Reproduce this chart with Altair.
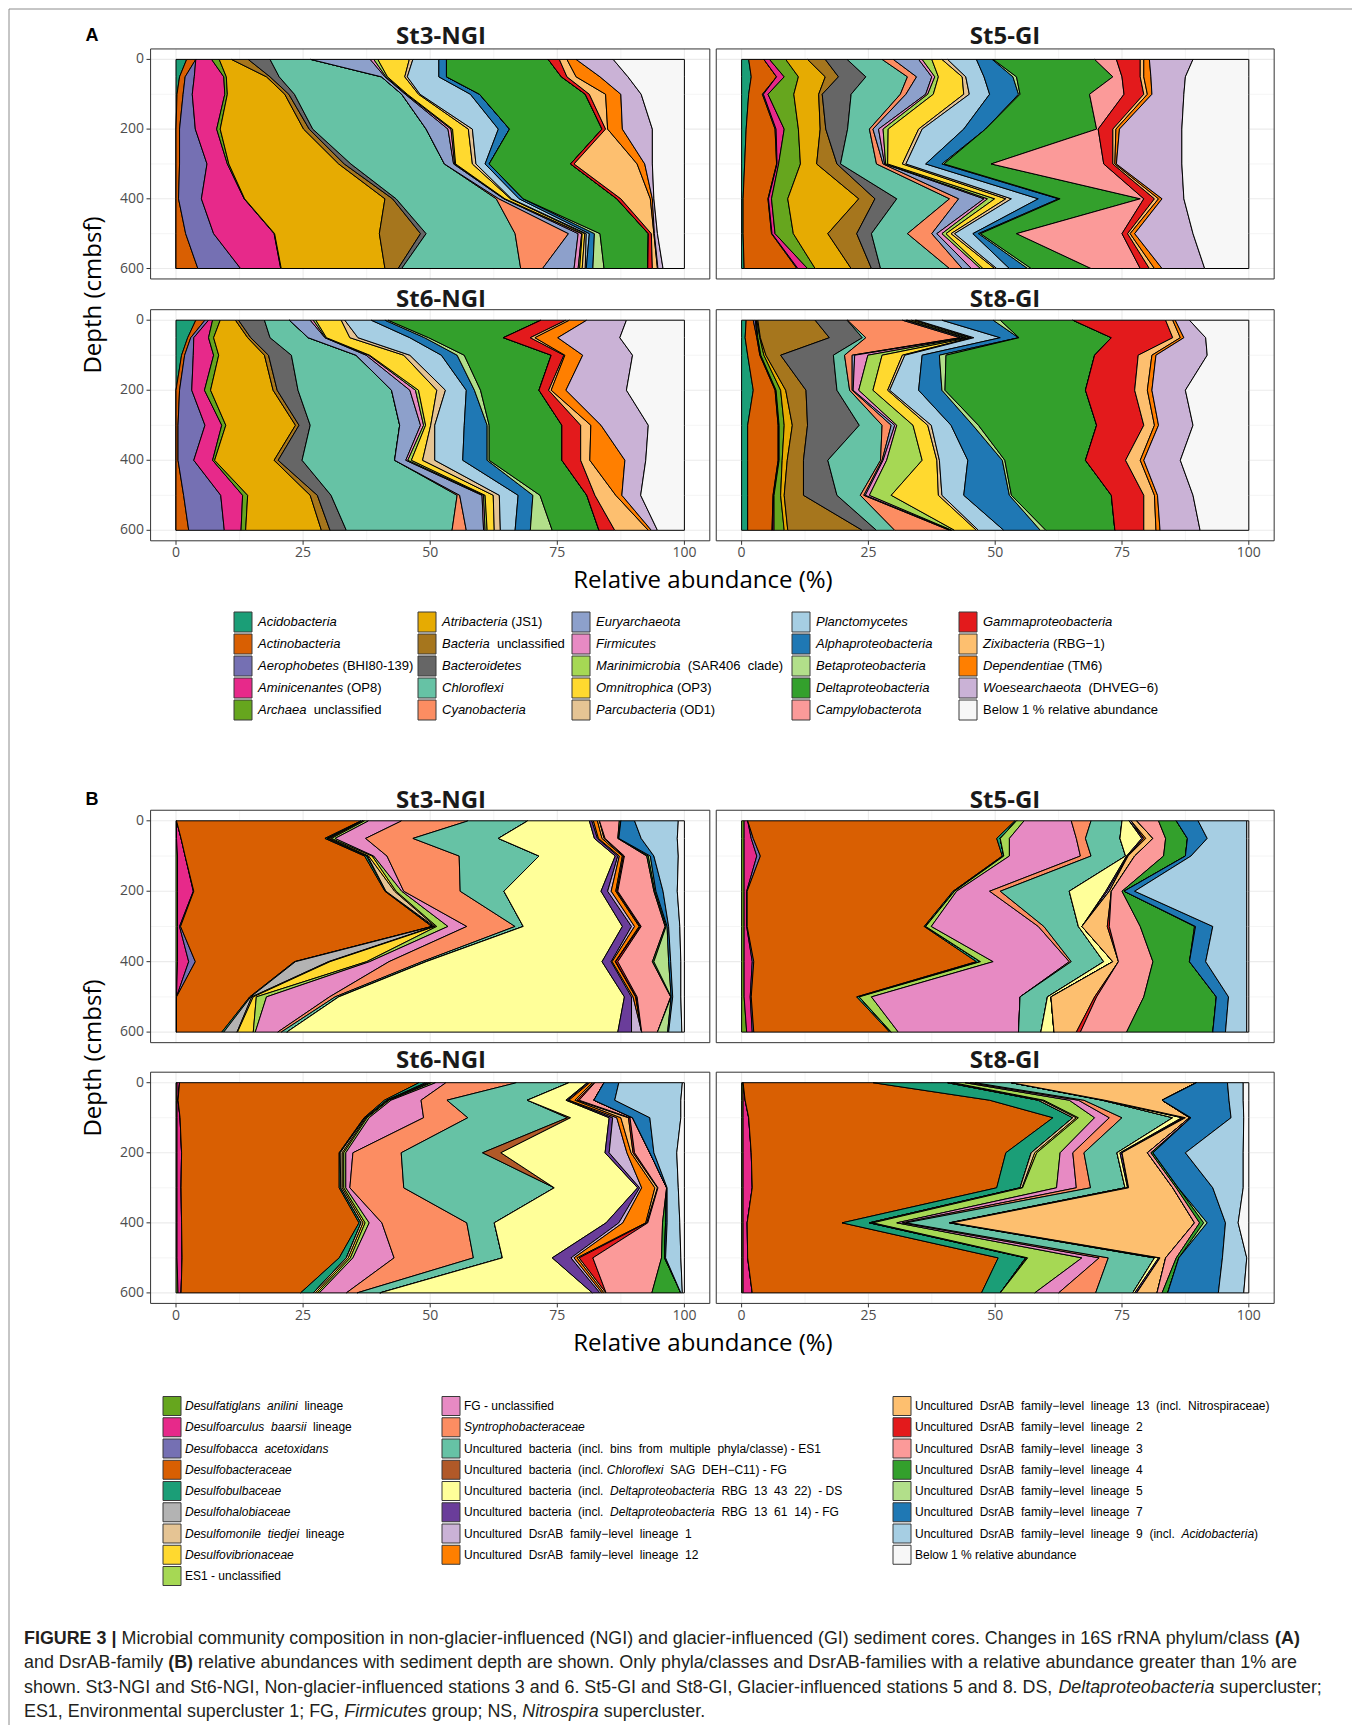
import altair as alt
import pandas as pd
import numpy as np

# ------------------------------------------------------------------ data
DEPTHS = [0, 50, 100, 200, 300, 400, 500, 600]

PHYLA = ["Acidobacteria", "Actinobacteria", "Aerophobetes (BHI80-139)", "Aminicenantes (OP8)",
         "Archaea unclassified", "Atribacteria (JS1)", "Bacteria unclassified", "Bacteroidetes",
         "Chloroflexi", "Cyanobacteria", "Euryarchaeota", "Firmicutes",
         "Marinimicrobia (SAR406 clade)", "Omnitrophica (OP3)", "Parcubacteria (OD1)",
         "Planctomycetes", "Alphaproteobacteria", "Betaproteobacteria", "Deltaproteobacteria",
         "Campylobacterota", "Gammaproteobacteria", "Zixibacteria (RBG-1)", "Dependentiae (TM6)",
         "Woesearchaeota (DHVEG-6)", "Below 1 % relative abundance"]
PHYLA_COLORS = ["#1B9E77", "#D95F02", "#7570B3", "#E7298A", "#66A61E", "#E6AB02", "#A6761D",
                "#666666", "#66C2A5", "#FC8D62", "#8DA0CB", "#E78AC3", "#A6D854", "#FFD92F",
                "#E5C494", "#A6CEE3", "#1F78B4", "#B2DF8A", "#33A02C", "#FB9A99", "#E31A1C",
                "#FDBF6F", "#FF7F00", "#CAB2D6", "#F7F7F7"]

DSR = ["Desulfatiglans anilini lineage", "Desulfoarculus baarsii lineage", "Desulfobacca acetoxidans",
       "Desulfobacteraceae", "Desulfobulbaceae", "Desulfohalobiaceae", "Desulfomonile tiedjei lineage",
       "Desulfovibrionaceae", "ES1 - unclassified", "FG - unclassified", "Syntrophobacteraceae",
       "Uncultured bacteria (incl. bins from multiple phyla/classe) - ES1",
       "Uncultured bacteria (incl. Chloroflexi SAG DEH-C11) - FG",
       "Uncultured bacteria (incl. Deltaproteobacteria RBG 13 43 22) - DS",
       "Uncultured bacteria (incl. Deltaproteobacteria RBG 13 61 14) - FG",
       "Uncultured DsrAB family-level lineage 1", "Uncultured DsrAB family-level lineage 12",
       "Uncultured DsrAB family-level lineage 13 (incl. Nitrospiraceae)",
       "Uncultured DsrAB family-level lineage 2", "Uncultured DsrAB family-level lineage 3",
       "Uncultured DsrAB family-level lineage 4", "Uncultured DsrAB family-level lineage 5",
       "Uncultured DsrAB family-level lineage 7",
       "Uncultured DsrAB family-level lineage 9 (incl. Acidobacteria)",
       "Below 1 % relative abundance"]
DSR_COLORS = ["#66A61E", "#E7298A", "#7570B3", "#D95F02", "#1B9E77", "#B3B3B3", "#E5C494",
              "#FFD92F", "#A6D854", "#E78AC3", "#FC8D62", "#66C2A5", "#B15928", "#FFFF99",
              "#6A3D9A", "#CAB2D6", "#FF7F00", "#FDBF6F", "#E31A1C", "#FB9A99", "#33A02C",
              "#B2DF8A", "#1F78B4", "#A6CEE3", "#F7F7F7"]

# cumulative right edges (%) of the first 24 groups at each depth; the last group fills to 100
A_ST3 = [
    [2.1, 3.9, 3.9, 7.0, 8.5, 10.9, 14.2, 18.5, 26.5, 26.5, 38.2, 38.9, 39.7, 45.9, 46.6, 51.7, 53.2, 53.2, 73.2, 73.2, 75.4, 76.9, 78.7, 86.0],
    [0.7, 1.8, 3.6, 9.4, 9.9, 17.8, 18.5, 20.3, 40.4, 40.4, 41.1, 41.3, 41.6, 45.0, 45.5, 51.7, 53.2, 53.2, 75.8, 75.8, 76.9, 78.7, 83.4, 88.9],
    [0.2, 1.4, 3.2, 9.6, 10.1, 21.4, 22.2, 23.3, 44.4, 44.4, 45.1, 45.3, 45.5, 47.7, 48.0, 57.9, 59.7, 59.7, 80.5, 80.5, 81.3, 84.5, 87.5, 91.5],
    [0.0, 0.7, 3.8, 8.0, 8.7, 25.1, 26.2, 26.9, 49.2, 49.2, 53.5, 54.1, 54.4, 57.5, 58.3, 63.4, 65.6, 65.6, 83.8, 83.8, 84.5, 84.9, 87.8, 93.7],
    [0.0, 0.7, 6.1, 10.1, 10.4, 32.0, 33.1, 34.4, 52.8, 52.8, 54.6, 54.8, 55.0, 58.3, 59.0, 60.8, 61.6, 61.6, 77.6, 77.6, 78.3, 90.7, 92.2, 93.7],
    [0.0, 0.5, 5.0, 13.4, 13.5, 41.1, 42.6, 43.3, 63.0, 63.5, 64.5, 64.6, 64.7, 65.8, 66.0, 67.5, 68.3, 68.3, 86.7, 86.7, 87.5, 93.3, 93.7, 94.0],
    [0.0, 1.9, 7.4, 19.3, 19.4, 40.0, 48.1, 49.2, 66.7, 77.2, 79.1, 79.8, 79.9, 80.4, 80.7, 81.3, 82.3, 83.4, 92.9, 92.9, 93.5, 94.0, 94.1, 94.7],
    [0.0, 4.3, 12.7, 20.6, 20.7, 41.1, 43.7, 44.4, 67.8, 72.1, 78.3, 79.1, 79.4, 79.9, 80.5, 80.7, 82.0, 84.2, 92.8, 92.8, 93.7, 94.7, 94.8, 95.8],
]
A_ST5 = [
    [1.4, 4.4, 4.4, 5.5, 8.7, 13.0, 16.5, 20.8, 27.7, 29.9, 34.9, 35.6, 37.5, 39.5, 40.6, 46.3, 49.4, 49.6, 69.6, 73.9, 78.6, 79.3, 80.4, 89.0],
    [1.9, 6.9, 6.9, 8.4, 11.2, 16.5, 19.1, 24.5, 32.7, 34.5, 37.5, 38.1, 38.8, 43.5, 44.2, 47.8, 53.5, 54.2, 73.2, 75.0, 78.6, 79.3, 80.7, 87.5],
    [1.4, 4.1, 4.3, 5.2, 10.3, 15.2, 15.9, 21.6, 31.3, 32.4, 36.3, 36.7, 37.8, 43.8, 44.9, 48.9, 54.6, 54.9, 68.6, 75.4, 79.3, 80.0, 80.9, 87.2],
    [0.9, 6.6, 6.8, 8.4, 11.2, 15.5, 16.6, 20.9, 25.2, 25.9, 27.0, 27.9, 28.9, 34.9, 35.6, 43.8, 48.1, 48.1, 70.0, 70.3, 73.2, 73.8, 74.5, 86.8],
    [0.6, 6.9, 7.0, 7.3, 11.6, 14.8, 18.8, 19.5, 26.6, 27.9, 28.2, 28.4, 28.8, 31.7, 32.4, 36.3, 39.5, 39.9, 49.2, 71.4, 73.2, 73.6, 73.9, 86.8],
    [0.3, 5.2, 5.3, 5.9, 9.1, 23.1, 26.3, 30.6, 41.0, 42.8, 47.8, 48.5, 49.9, 52.1, 53.2, 58.5, 62.5, 62.8, 78.6, 79.3, 81.4, 82.2, 82.9, 87.2],
    [0.3, 5.9, 6.0, 6.6, 10.2, 17.0, 22.7, 25.6, 32.7, 37.5, 38.5, 39.5, 40.3, 41.3, 42.0, 45.6, 46.7, 47.1, 54.2, 75.0, 76.1, 76.6, 77.5, 89.0],
    [0.5, 10.9, 11.1, 13.0, 14.5, 21.6, 25.6, 27.4, 41.0, 43.5, 45.3, 47.1, 47.6, 49.9, 50.3, 52.8, 56.4, 57.1, 68.9, 78.6, 80.4, 81.4, 82.9, 91.3],
]
A_ST6 = [
    [3.9, 5.7, 6.4, 7.2, 8.7, 11.7, 12.3, 17.4, 22.3, 22.3, 26.4, 27.0, 27.5, 32.5, 33.2, 38.4, 41.1, 41.7, 71.8, 71.8, 76.7, 77.4, 80.8, 88.6],
    [2.3, 2.9, 3.5, 6.4, 7.4, 14.1, 14.7, 18.5, 26.0, 26.0, 29.3, 29.4, 29.6, 34.2, 35.8, 46.0, 48.9, 49.7, 64.4, 64.4, 69.7, 70.6, 75.1, 87.3],
    [1.1, 1.7, 3.4, 7.4, 8.4, 17.4, 18.2, 22.7, 35.4, 35.4, 37.4, 37.9, 38.1, 44.8, 46.0, 52.2, 55.3, 56.7, 73.8, 73.8, 76.3, 76.5, 80.0, 89.8],
    [0.0, 0.7, 3.1, 5.6, 6.8, 19.1, 19.9, 24.0, 42.4, 42.4, 46.0, 47.1, 47.7, 51.3, 53.0, 57.1, 58.7, 59.9, 71.4, 71.4, 73.3, 73.8, 76.7, 88.6],
    [0.0, 0.4, 5.7, 9.0, 9.8, 23.5, 24.2, 26.4, 44.0, 44.0, 48.1, 48.7, 49.1, 50.1, 50.9, 56.7, 61.2, 61.6, 75.9, 75.9, 79.6, 81.6, 83.6, 92.9],
    [0.0, 0.4, 3.5, 7.2, 7.6, 19.3, 20.1, 24.8, 43.0, 43.0, 45.2, 45.6, 46.3, 48.5, 50.9, 56.4, 61.2, 61.6, 75.9, 75.9, 79.6, 81.4, 88.3, 92.4],
    [0.0, 1.5, 8.8, 13.1, 14.1, 26.4, 27.8, 30.5, 55.3, 55.8, 60.2, 60.5, 60.8, 62.4, 63.6, 67.3, 70.2, 71.6, 80.8, 80.8, 82.4, 86.5, 87.7, 91.4],
    [0.0, 2.5, 9.5, 12.8, 13.7, 28.6, 30.3, 33.5, 54.3, 57.1, 60.5, 60.8, 61.2, 62.6, 63.8, 66.7, 69.7, 74.0, 83.2, 83.2, 86.3, 92.9, 93.5, 94.7],
]
A_ST8 = [
    [0.9, 2.3, 2.7, 2.9, 3.0, 3.2, 14.5, 20.8, 20.9, 31.7, 32.4, 32.7, 33.5, 34.2, 34.5, 39.5, 49.6, 51.0, 65.3, 65.3, 83.6, 85.0, 85.5, 88.3],
    [0.7, 3.0, 3.1, 3.2, 3.6, 3.7, 17.3, 23.8, 24.5, 43.1, 43.8, 44.2, 44.9, 45.3, 45.8, 51.0, 54.6, 54.7, 72.9, 72.9, 85.0, 86.5, 87.2, 91.5],
    [1.2, 3.6, 3.7, 3.8, 4.4, 4.8, 7.7, 18.1, 20.3, 21.8, 22.3, 24.9, 27.7, 31.7, 32.2, 35.6, 39.0, 40.3, 69.6, 69.6, 78.2, 80.9, 81.7, 91.8],
    [2.3, 6.6, 6.7, 6.8, 7.7, 8.7, 12.7, 18.8, 21.3, 21.8, 22.0, 23.1, 25.9, 28.8, 29.2, 34.9, 39.5, 40.1, 67.8, 67.8, 77.5, 80.0, 80.9, 87.5],
    [1.2, 7.2, 7.3, 7.4, 8.4, 10.0, 13.0, 23.2, 27.7, 29.5, 30.2, 30.6, 33.8, 36.7, 37.4, 41.3, 45.6, 46.7, 70.0, 70.0, 79.3, 81.4, 82.2, 89.0],
    [1.2, 7.2, 7.3, 7.4, 8.0, 9.0, 12.2, 17.0, 27.4, 27.7, 27.9, 28.6, 35.6, 38.5, 39.0, 44.6, 51.4, 51.9, 67.8, 67.8, 75.7, 78.6, 79.3, 86.5],
    [1.2, 6.2, 6.3, 6.4, 7.7, 8.4, 12.2, 18.8, 23.4, 24.1, 24.4, 25.2, 29.5, 38.8, 39.5, 43.8, 52.8, 53.2, 72.9, 72.9, 79.3, 81.4, 82.0, 89.0],
    [1.2, 6.0, 6.1, 6.4, 8.4, 9.1, 23.8, 26.6, 30.2, 41.0, 41.3, 41.5, 42.0, 46.3, 46.7, 51.7, 58.9, 60.0, 73.6, 73.6, 79.3, 81.7, 82.5, 90.4],
]
B_ST3 = [
    [0.1, 0.1, 0.1, 36.4, 36.8, 36.8, 36.8, 37.1, 37.9, 44.4, 57.5, 69.2, 69.2, 81.3, 81.8, 82.1, 82.9, 83.3, 83.3, 87.2, 87.5, 87.5, 90.2, 98.8],
    [0.1, 1.0, 1.0, 29.3, 29.7, 29.9, 30.2, 30.6, 31.3, 37.3, 46.6, 63.4, 63.4, 82.3, 82.9, 83.1, 83.8, 84.2, 84.4, 86.9, 87.1, 87.1, 91.5, 98.6],
    [0.3, 1.8, 1.8, 37.1, 37.5, 37.7, 37.9, 38.6, 38.9, 41.5, 55.7, 71.4, 71.4, 86.4, 86.9, 87.2, 87.8, 88.0, 88.2, 92.6, 92.9, 93.3, 94.0, 98.8],
    [0.3, 3.4, 3.5, 41.1, 41.3, 41.3, 43.0, 43.3, 44.4, 44.8, 55.9, 64.5, 64.5, 83.6, 84.9, 85.6, 86.5, 86.7, 86.9, 94.0, 94.2, 94.4, 95.8, 98.6],
    [0.3, 0.7, 0.9, 50.3, 50.5, 50.8, 51.0, 51.3, 53.5, 57.2, 66.7, 68.3, 68.3, 87.8, 89.6, 90.2, 91.1, 91.3, 91.5, 96.2, 96.4, 96.6, 96.9, 99.1],
    [0.3, 2.5, 3.8, 23.3, 23.5, 30.0, 30.3, 37.5, 38.1, 41.9, 48.4, 49.2, 49.2, 83.8, 85.6, 85.8, 86.4, 86.5, 86.9, 93.7, 94.0, 96.9, 97.3, 99.3],
    [0.1, 0.1, 0.1, 14.5, 14.7, 14.9, 15.2, 15.8, 17.8, 30.2, 31.3, 32.0, 32.0, 88.2, 89.6, 89.9, 90.4, 90.5, 90.7, 97.3, 97.4, 97.4, 97.7, 99.3],
    [0.1, 0.1, 0.1, 9.0, 9.4, 12.0, 12.1, 15.2, 15.6, 20.0, 20.7, 21.8, 21.8, 86.9, 89.6, 91.6, 91.6, 91.6, 91.6, 94.7, 94.7, 96.7, 96.9, 99.5],
]
B_ST5 = [
    [0.5, 1.2, 1.2, 53.9, 54.2, 54.2, 54.2, 54.2, 55.7, 65.0, 68.9, 75.0, 75.0, 76.4, 76.4, 76.8, 76.8, 77.9, 77.9, 82.2, 85.7, 85.7, 90.0, 99.6],
    [0.5, 1.9, 2.3, 50.3, 51.0, 51.0, 51.0, 51.0, 52.8, 66.0, 67.8, 74.6, 74.6, 78.9, 79.3, 79.3, 79.7, 81.1, 81.1, 83.6, 87.9, 87.9, 91.8, 99.6],
    [0.5, 3.0, 3.7, 51.4, 51.7, 51.7, 51.7, 51.7, 52.8, 66.8, 68.9, 75.7, 75.7, 75.9, 76.1, 76.1, 76.2, 77.5, 77.5, 83.2, 87.5, 87.5, 88.6, 99.6],
    [0.5, 1.0, 1.1, 41.7, 42.0, 42.0, 42.0, 42.0, 42.4, 48.9, 51.0, 64.6, 64.6, 71.8, 72.1, 72.5, 72.5, 72.9, 72.9, 75.0, 75.4, 75.4, 77.5, 99.6],
    [0.5, 1.0, 1.1, 36.0, 36.3, 36.3, 36.3, 36.3, 37.4, 58.5, 59.6, 66.4, 66.4, 67.1, 67.1, 67.1, 67.1, 72.1, 72.5, 78.6, 89.3, 89.5, 92.9, 99.6],
    [0.5, 2.1, 2.4, 46.3, 47.1, 47.1, 47.1, 47.1, 49.6, 64.6, 65.0, 71.4, 71.4, 73.2, 73.2, 73.2, 73.2, 74.3, 74.3, 81.1, 88.3, 88.3, 91.5, 99.6],
    [0.5, 1.7, 1.9, 22.7, 23.2, 23.2, 23.2, 23.2, 25.6, 54.9, 54.9, 60.3, 60.3, 61.0, 61.0, 61.0, 61.0, 69.6, 70.0, 79.3, 93.6, 93.6, 96.0, 99.6],
    [1.0, 2.1, 2.4, 29.2, 29.5, 29.5, 29.5, 29.5, 30.9, 54.6, 54.6, 59.0, 59.0, 61.6, 61.6, 61.6, 61.6, 66.0, 66.8, 75.9, 92.9, 92.9, 95.4, 99.6],
]
B_ST6 = [
    [0.2, 0.7, 0.7, 47.8, 49.1, 49.5, 49.9, 50.3, 51.1, 53.1, 67.0, 77.3, 77.3, 80.9, 81.1, 81.4, 81.9, 82.2, 82.4, 84.2, 84.2, 84.2, 87.1, 99.6],
    [0.2, 0.4, 0.4, 41.0, 41.5, 41.5, 41.7, 41.9, 42.3, 48.2, 53.3, 69.1, 69.1, 76.7, 77.0, 77.3, 78.5, 78.9, 79.3, 82.2, 82.2, 82.2, 86.3, 99.3],
    [0.2, 0.8, 0.8, 37.0, 37.2, 37.2, 37.4, 37.6, 38.0, 48.7, 57.4, 77.0, 77.6, 85.2, 85.9, 86.7, 87.5, 89.0, 89.3, 89.8, 89.8, 89.8, 93.2, 99.3],
    [0.2, 1.1, 1.1, 32.1, 32.3, 32.3, 32.7, 33.0, 33.4, 34.8, 44.3, 60.3, 63.9, 84.4, 85.2, 88.7, 89.5, 89.9, 90.2, 93.2, 93.2, 93.2, 94.0, 98.5],
    [0.2, 1.0, 1.0, 32.1, 32.4, 32.4, 32.7, 33.0, 33.4, 34.2, 44.8, 74.4, 74.4, 90.8, 91.2, 91.6, 94.2, 94.7, 94.8, 96.5, 96.5, 96.5, 96.6, 98.8],
    [0.2, 1.1, 1.1, 36.0, 36.4, 36.4, 36.8, 37.2, 38.0, 40.5, 57.2, 62.6, 62.6, 84.6, 87.1, 87.9, 92.4, 92.6, 92.8, 95.7, 96.3, 96.3, 96.6, 99.1],
    [0.2, 1.2, 1.2, 32.1, 33.5, 33.5, 33.9, 34.3, 34.8, 42.9, 58.5, 64.2, 64.2, 74.0, 77.7, 78.3, 78.9, 79.3, 82.0, 95.5, 96.1, 96.1, 96.3, 99.3],
    [0.4, 1.0, 1.0, 24.5, 27.0, 27.0, 27.4, 27.8, 28.2, 33.5, 35.6, 40.1, 40.1, 81.9, 83.4, 83.8, 84.2, 84.6, 84.6, 93.6, 99.3, 99.3, 99.3, 99.6],
]
B_ST8 = [
    [0.3, 0.3, 0.3, 25.9, 40.6, 40.6, 41.3, 41.7, 44.0, 45.0, 46.0, 53.2, 53.2, 53.2, 53.2, 53.2, 53.2, 89.7, 89.7, 89.7, 89.7, 89.7, 95.8, 98.9],
    [0.3, 0.7, 0.7, 48.9, 58.5, 58.5, 59.2, 59.6, 64.6, 66.4, 67.5, 71.1, 71.1, 71.4, 71.6, 71.6, 71.6, 82.9, 82.9, 82.9, 82.9, 82.9, 96.1, 98.9],
    [0.3, 1.4, 1.4, 61.4, 65.3, 65.3, 66.0, 66.4, 69.6, 72.5, 75.0, 85.0, 85.0, 86.8, 87.2, 87.2, 87.5, 88.3, 88.3, 88.6, 88.6, 88.6, 96.5, 99.0],
    [0.3, 1.9, 1.9, 52.1, 57.1, 57.1, 57.8, 58.2, 62.8, 65.3, 67.5, 74.0, 74.0, 74.6, 75.0, 75.0, 75.0, 80.0, 80.0, 80.7, 81.1, 81.1, 87.5, 98.9],
    [0.3, 2.1, 2.1, 50.3, 54.9, 54.9, 55.3, 55.4, 62.1, 66.0, 68.8, 75.6, 75.6, 76.1, 76.3, 76.3, 76.3, 85.0, 85.0, 85.7, 86.1, 86.1, 92.9, 98.9],
    [0.3, 1.1, 1.1, 19.8, 25.2, 25.2, 25.6, 25.9, 30.6, 31.7, 32.4, 41.0, 41.0, 41.3, 41.5, 41.5, 41.5, 89.3, 89.3, 90.3, 91.1, 91.8, 95.4, 97.9],
    [0.3, 1.2, 1.2, 50.6, 56.0, 56.0, 56.2, 56.4, 67.1, 70.5, 72.3, 81.4, 81.4, 82.2, 82.5, 82.5, 82.5, 83.6, 83.6, 85.7, 86.2, 86.2, 94.8, 99.6],
    [0.3, 2.1, 2.1, 47.3, 51.0, 51.0, 51.0, 51.0, 57.8, 62.5, 69.8, 77.1, 77.1, 77.5, 77.9, 77.9, 77.9, 81.9, 81.9, 82.9, 84.0, 84.0, 94.0, 99.0],
]

# legend labels split into (text, style) pieces: n = normal, i = italic, b = bold
LEG_A = [
    [("Acidobacteria", "i")], [("Actinobacteria", "i")],
    [("Aerophobetes", "i"), (" (BHI80-139)", "n")], [("Aminicenantes", "i"), (" (OP8)", "n")],
    [("Archaea", "i"), ("  unclassified", "n")], [("Atribacteria", "i"), (" (JS1)", "n")],
    [("Bacteria", "i"), ("  unclassified", "n")], [("Bacteroidetes", "i")], [("Chloroflexi", "i")],
    [("Cyanobacteria", "i")], [("Euryarchaeota", "i")], [("Firmicutes", "i")],
    [("Marinimicrobia", "i"), ("  (SAR406  clade)", "n")], [("Omnitrophica", "i"), (" (OP3)", "n")],
    [("Parcubacteria", "i"), (" (OD1)", "n")], [("Planctomycetes", "i")],
    [("Alphaproteobacteria", "i")], [("Betaproteobacteria", "i")], [("Deltaproteobacteria", "i")],
    [("Campylobacterota", "i")], [("Gammaproteobacteria", "i")],
    [("Zixibacteria", "i"), (" (RBG\u22121)", "n")], [("Dependentiae", "i"), (" (TM6)", "n")],
    [("Woesearchaeota", "i"), ("  (DHVEG\u22126)", "n")], [("Below 1 % relative abundance", "n")],
]
LEG_B = [
    [("Desulfatiglans  anilini", "i"), ("  lineage", "n")],
    [("Desulfoarculus  baarsii", "i"), ("  lineage", "n")],
    [("Desulfobacca  acetoxidans", "i")], [("Desulfobacteraceae", "i")], [("Desulfobulbaceae", "i")],
    [("Desulfohalobiaceae", "i")], [("Desulfomonile  tiedjei", "i"), ("  lineage", "n")],
    [("Desulfovibrionaceae", "i")], [("ES1 - unclassified", "n")],
    [("FG - unclassified", "n")], [("Syntrophobacteraceae", "i")],
    [("Uncultured  bacteria  (incl.  bins  from  multiple  phyla/classe) - ES1", "n")],
    [("Uncultured  bacteria  (incl. ", "n"), ("Chloroflexi", "i"), ("  SAG  DEH\u2212C11) - FG", "n")],
    [("Uncultured  bacteria  (incl.  ", "n"), ("Deltaproteobacteria", "i"), ("  RBG  13  43  22)  - DS", "n")],
    [("Uncultured  bacteria  (incl.  ", "n"), ("Deltaproteobacteria", "i"), ("  RBG  13  61  14) - FG", "n")],
    [("Uncultured  DsrAB  family\u2212level  lineage  1", "n")],
    [("Uncultured  DsrAB  family\u2212level  lineage  12", "n")],
    [("Uncultured  DsrAB  family\u2212level  lineage  13  (incl.  Nitrospiraceae)", "n")],
    [("Uncultured  DsrAB  family\u2212level  lineage  2", "n")],
    [("Uncultured  DsrAB  family\u2212level  lineage  3", "n")],
    [("Uncultured  DsrAB  family\u2212level  lineage  4", "n")],
    [("Uncultured  DsrAB  family\u2212level  lineage  5", "n")],
    [("Uncultured  DsrAB  family\u2212level  lineage  7", "n")],
    [("Uncultured  DsrAB  family\u2212level  lineage  9  (incl.  ", "n"), ("Acidobacteria", "i"), (")", "n")],
    [("Below 1 % relative abundance", "n")],
]
CAPTION = [
    [("FIGURE 3 |", "b"), (" Microbial community composition in non-glacier-influenced (NGI) and glacier-influenced (GI) sediment cores. Changes in 16S rRNA phylum/class ", "n"), ("(A)", "b")],
    [("and DsrAB-family ", "n"), ("(B)", "b"), (" relative abundances with sediment depth are shown. Only phyla/classes and DsrAB-families with a relative abundance greater than 1% are", "n")],
    [("shown. St3-NGI and St6-NGI, Non-glacier-influenced stations 3 and 6. St5-GI and St8-GI, Glacier-influenced stations 5 and 8. DS, ", "n"), ("Deltaproteobacteria", "i"), (" supercluster;", "n")],
    [("ES1, Environmental supercluster 1; FG, ", "n"), ("Firmicutes", "i"), (" group; NS, ", "n"), ("Nitrospira", "i"), (" supercluster.", "n")],
]
CAPTION_LINE_WIDTHS = [1285, 1274, 1329]

X_TICKS = [0, 25, 50, 75, 100]
Y_TICKS = [0, 200, 400, 600]

# ------------------------------------------------------------------ layout helpers
M = 8
W, H = 1360 - 2 * M, 1725 - M
COL_X = [(176.0, 684.4), (741.6, 1248.8)]
ROW_Y = {"A": [(59.4, 268.5), (320.2, 530.3)], "B": [(820.8, 1032.1), (1082.7, 1292.9)]}

OPEN = "Open Sans"
LIB = "Liberation Sans"

_AW = {' ': 278, '!': 278, '%': 889, '(': 333, ')': 333, ',': 278, '-': 333, '.': 278, '/': 278,
       ':': 278, ';': 278, '|': 260, '\u2212': 584, '\u00a0': 278}
for _c in "0123456789":
    _AW[_c] = 556
_AW.update(dict(zip("ABCDEFGHIJKLMNOPQRSTUVWXYZ",
                    [667, 667, 722, 722, 667, 611, 778, 722, 278, 500, 667, 556, 833, 722, 778, 667, 778, 722, 667, 611, 722, 667, 944, 667, 667, 611])))
_AW.update(dict(zip("abcdefghijklmnopqrstuvwxyz",
                    [556, 556, 500, 556, 556, 278, 556, 556, 222, 222, 500, 222, 833, 556, 556, 556, 556, 333, 500, 278, 556, 500, 722, 500, 500, 500])))
_BW = dict(_AW)
_BW.update(dict(zip("ABCDEFGHIJKLMNOPQRSTUVWXYZ",
                    [722, 722, 722, 722, 667, 611, 778, 722, 278, 556, 722, 611, 833, 722, 778, 667, 778, 722, 667, 611, 722, 667, 944, 667, 667, 611])))
_BW.update(dict(zip("abcdefghijklmnopqrstuvwxyz",
                    [556, 611, 556, 611, 556, 333, 611, 611, 278, 278, 556, 278, 889, 611, 611, 611, 611, 389, 556, 333, 611, 556, 778, 556, 556, 500])))
_BW['|'] = 280


def em(s, bold=False):
    t = _BW if bold else _AW
    return sum(t.get(ch, 556) for ch in s) / 1000.0


def seg_rows(segs, x0, y, size):
    rows, x = [], x0
    for txt, sty in segs:
        bold = sty == "b"
        lead = len(txt) - len(txt.lstrip(" "))
        body = txt.strip(" ")
        rows.append(dict(x=x + em(" " * lead, bold) * size - M, y=y - M,
                         t=body.replace(" ", "\u00a0"), s=sty))
        x += em(txt, bold) * size
    return rows


def xscale(col):
    a, b = COL_X[col]
    return alt.Scale(domain=[0, 100], range=[a - M, b - M], nice=False, zero=False)


def yscale(fig, row):
    a, b = ROW_Y[fig][row]
    return alt.Scale(domain=[0, 600], range=[a - M, b - M], nice=False, zero=False)


def long_table(rows, cats):
    recs = []
    for d, row in zip(DEPTHS, rows):
        edges = np.minimum(np.maximum.accumulate(np.array([0.0] + list(row) + [100.0])), 100.0)
        for k, cat in enumerate(cats):
            recs.append(dict(depth=d, taxon=cat, k=k, pct=float(edges[k + 1] - edges[k])))
    return pd.DataFrame(recs).sort_values(["depth", "k"])


grid_rows = []
for v in X_TICKS:
    grid_rows.append(dict(x1=v, x2=v, y1=-30, y2=630, w=1.1))
for v in [12.5, 37.5, 62.5, 87.5]:
    grid_rows.append(dict(x1=v, x2=v, y1=-30, y2=630, w=0.55))
for v in Y_TICKS:
    grid_rows.append(dict(x1=-5, x2=105, y1=v, y2=v, w=1.1))
for v in [100, 300, 500]:
    grid_rows.append(dict(x1=-5, x2=105, y1=v, y2=v, w=0.55))
GRID = pd.DataFrame(grid_rows)
BORDER = pd.DataFrame([dict(x1=-5, x2=105, y1=-30, y2=630)])
YT = pd.DataFrame(dict(d=Y_TICKS, x1=-5.8, x2=-5.0, xl=-6.3, t=[str(v) for v in Y_TICKS]))
XT = pd.DataFrame(dict(v=X_TICKS, y1=630, y2=641.4, yl=665, t=[str(v) for v in X_TICKS]))


def panel_layers(fig, row, col, rows, cats, colors):
    xs, ys = xscale(col), yscale(fig, row)
    df = long_table(rows, cats)
    out = []
    out.append(alt.Chart(GRID).mark_rule(color="#EBEBEB").encode(
        x=alt.X("x1:Q", scale=xs, axis=None), x2="x2:Q",
        y=alt.Y("y1:Q", scale=ys, axis=None), y2="y2:Q",
        strokeWidth=alt.StrokeWidth("w:Q", scale=None, legend=None)))
    out.append(alt.Chart(df).mark_area(orient="horizontal", stroke="black", strokeWidth=1.0,
                                       strokeJoin="round", opacity=1, interpolate="linear").encode(
        x=alt.X("pct:Q", stack="zero", scale=xs, axis=None),
        y=alt.Y("depth:Q", scale=ys, axis=None),
        color=alt.Color("taxon:N", scale=alt.Scale(domain=cats, range=colors), legend=None),
        order=alt.Order("k:Q", sort="ascending")))
    out.append(alt.Chart(BORDER).mark_rect(fillOpacity=0, stroke="#333333", strokeWidth=1.0).encode(
        x=alt.X("x1:Q", scale=xs, axis=None), x2="x2:Q",
        y=alt.Y("y1:Q", scale=ys, axis=None), y2="y2:Q"))
    if col == 0:
        out.append(alt.Chart(YT).mark_rule(color="#333333", strokeWidth=1.0).encode(
            x=alt.X("x1:Q", scale=xs, axis=None), x2="x2:Q",
            y=alt.Y("d:Q", scale=ys, axis=None)))
        out.append(alt.Chart(YT).mark_text(align="right", baseline="middle", font=OPEN,
                                           fontSize=14, color="#4D4D4D").encode(
            x=alt.X("xl:Q", scale=xs, axis=None), y=alt.Y("d:Q", scale=ys, axis=None), text="t:N"))
    if row == 1:
        out.append(alt.Chart(XT).mark_rule(color="#333333", strokeWidth=1.0).encode(
            x=alt.X("v:Q", scale=xs, axis=None),
            y=alt.Y("y1:Q", scale=ys, axis=None), y2="y2:Q"))
        out.append(alt.Chart(XT).mark_text(align="center", baseline="middle", font=OPEN,
                                           fontSize=14, color="#4D4D4D").encode(
            x=alt.X("v:Q", scale=xs, axis=None), y=alt.Y("yl:Q", scale=ys, axis=None), text="t:N"))
    return out


def ptext(rows, **kw):
    return alt.Chart(pd.DataFrame(rows)).mark_text(**kw).encode(
        x=alt.X("x:Q", scale=None, axis=None),
        y=alt.Y("y:Q", scale=None, axis=None),
        text=alt.Text("t:N"))


layers = []
PANELS = [
    ("A", 0, 0, A_ST3, PHYLA, PHYLA_COLORS), ("A", 0, 1, A_ST5, PHYLA, PHYLA_COLORS),
    ("A", 1, 0, A_ST6, PHYLA, PHYLA_COLORS), ("A", 1, 1, A_ST8, PHYLA, PHYLA_COLORS),
    ("B", 0, 0, B_ST3, DSR, DSR_COLORS), ("B", 0, 1, B_ST5, DSR, DSR_COLORS),
    ("B", 1, 0, B_ST6, DSR, DSR_COLORS), ("B", 1, 1, B_ST8, DSR, DSR_COLORS),
]
for p in PANELS:
    layers += panel_layers(*p)

# strip titles
TITLE_X = [441, 1005]
TITLE_Y = {"A": [37, 300], "B": [801, 1061]}
names = [["St3-NGI", "St5-GI"], ["St6-NGI", "St8-GI"]]
strip = []
for fig in ["A", "B"]:
    for r in range(2):
        for c in range(2):
            strip.append(dict(x=TITLE_X[c] - M, y=TITLE_Y[fig][r] - M, t=names[r][c]))
layers.append(ptext(strip, font=OPEN, fontSize=24, fontWeight="bold", color="#1A1A1A",
                    align="center", baseline="middle"))

# figure letters
layers.append(ptext([dict(x=92 - M, y=36 - M, t="A"), dict(x=92 - M, y=800 - M, t="B")],
                    font=LIB, fontSize=18, fontWeight="bold", color="#000000",
                    align="center", baseline="middle"))

# axis titles
layers.append(ptext([dict(x=703 - M, y=581 - M, t="Relative abundance (%)"),
                     dict(x=703 - M, y=1344 - M, t="Relative abundance (%)")],
                    font=OPEN, fontSize=24, color="#000000", align="center", baseline="middle"))
layers.append(ptext([dict(x=94 - M, y=295 - M, t="Depth (cmbsf)"),
                     dict(x=94 - M, y=1058 - M, t="Depth (cmbsf)")],
                    font=OPEN, fontSize=24, color="#000000", align="center", baseline="middle",
                    angle=270))

# legends
sw, txt_rows = [], []
A_KEY_X = [234, 418, 572, 792, 959]
for i, segs in enumerate(LEG_A):
    c, r = i // 5, i % 5
    yc = 622 + 22 * r
    sw.append(dict(x1=A_KEY_X[c] - M, x2=A_KEY_X[c] + 18 - M, y1=yc - 10 - M, y2=yc + 10 - M,
                   fill=PHYLA_COLORS[i]))
    txt_rows += [dict(d, fs=13) for d in seg_rows(segs, A_KEY_X[c] + 24, yc, 13)]
B_KEY_X = [163, 442, 893]
B_COL_START = [0, 9, 17]
for i, segs in enumerate(LEG_B):
    c = 0 if i < 9 else (1 if i < 17 else 2)
    r = i - B_COL_START[c]
    yc = 1406 + 21.25 * r
    sw.append(dict(x1=B_KEY_X[c] - M, x2=B_KEY_X[c] + 18 - M, y1=yc - 9.5 - M, y2=yc + 9.5 - M,
                   fill=DSR_COLORS[i]))
    txt_rows += [dict(d, fs=12) for d in seg_rows(segs, B_KEY_X[c] + 22, yc, 12)]

layers.append(alt.Chart(pd.DataFrame(sw)).mark_rect(stroke="#3A3A3A", strokeWidth=1.0).encode(
    x=alt.X("x1:Q", scale=None, axis=None), x2="x2:Q",
    y=alt.Y("y1:Q", scale=None, axis=None), y2="y2:Q",
    fill=alt.Fill("fill:N", scale=None, legend=None)))

# caption: one font size, the largest that keeps the first three lines within their widths
fits = [wt / sum(em(t, s == "b") for t, s in line) for line, wt in zip(CAPTION, CAPTION_LINE_WIDTHS)]
cap_size = float(min(fits))
CAP_Y = [1639, 1663, 1688, 1712]
cap_rows = []
for line, yv in zip(CAPTION, CAP_Y):
    cap_rows += seg_rows(line, 24, yv, cap_size)

tdf = pd.DataFrame(txt_rows)
for fs in [13, 12]:
    for sty in ["n", "i"]:
        part = tdf[(tdf.fs == fs) & (tdf.s == sty)]
        if len(part):
            kw = dict(font=LIB, fontSize=fs, color="#000000", align="left", baseline="middle")
            if sty == "i":
                kw["fontStyle"] = "italic"
            layers.append(ptext(part[["x", "y", "t"]].to_dict("records"), **kw))

cdf = pd.DataFrame(cap_rows)
for sty in ["n", "i", "b"]:
    part = cdf[cdf.s == sty]
    kw = dict(font=LIB, fontSize=round(cap_size, 2), color="#231F20", align="left", baseline="middle")
    if sty == "i":
        kw["fontStyle"] = "italic"
    if sty == "b":
        kw["fontWeight"] = "bold"
    layers.append(ptext(part[["x", "y", "t"]].to_dict("records"), **kw))

# outer frame
layers.append(alt.Chart(pd.DataFrame([dict(x1=9 - M, x2=1355 - M, y1=9 - M, y2=1760 - M)]))
              .mark_rect(fillOpacity=0, stroke="#8C8C8C", strokeWidth=1.0).encode(
    x=alt.X("x1:Q", scale=None, axis=None), x2="x2:Q",
    y=alt.Y("y1:Q", scale=None, axis=None), y2="y2:Q"))

chart = alt.layer(*layers).resolve_scale(
    x="independent", y="independent", color="independent"
).properties(
    width=W, height=H, autosize=alt.AutoSizeParams(type="none"), padding=0, background="white"
).configure_view(stroke=None)

chart.save("out.html", embed_options={"renderer": "svg", "actions": False})
